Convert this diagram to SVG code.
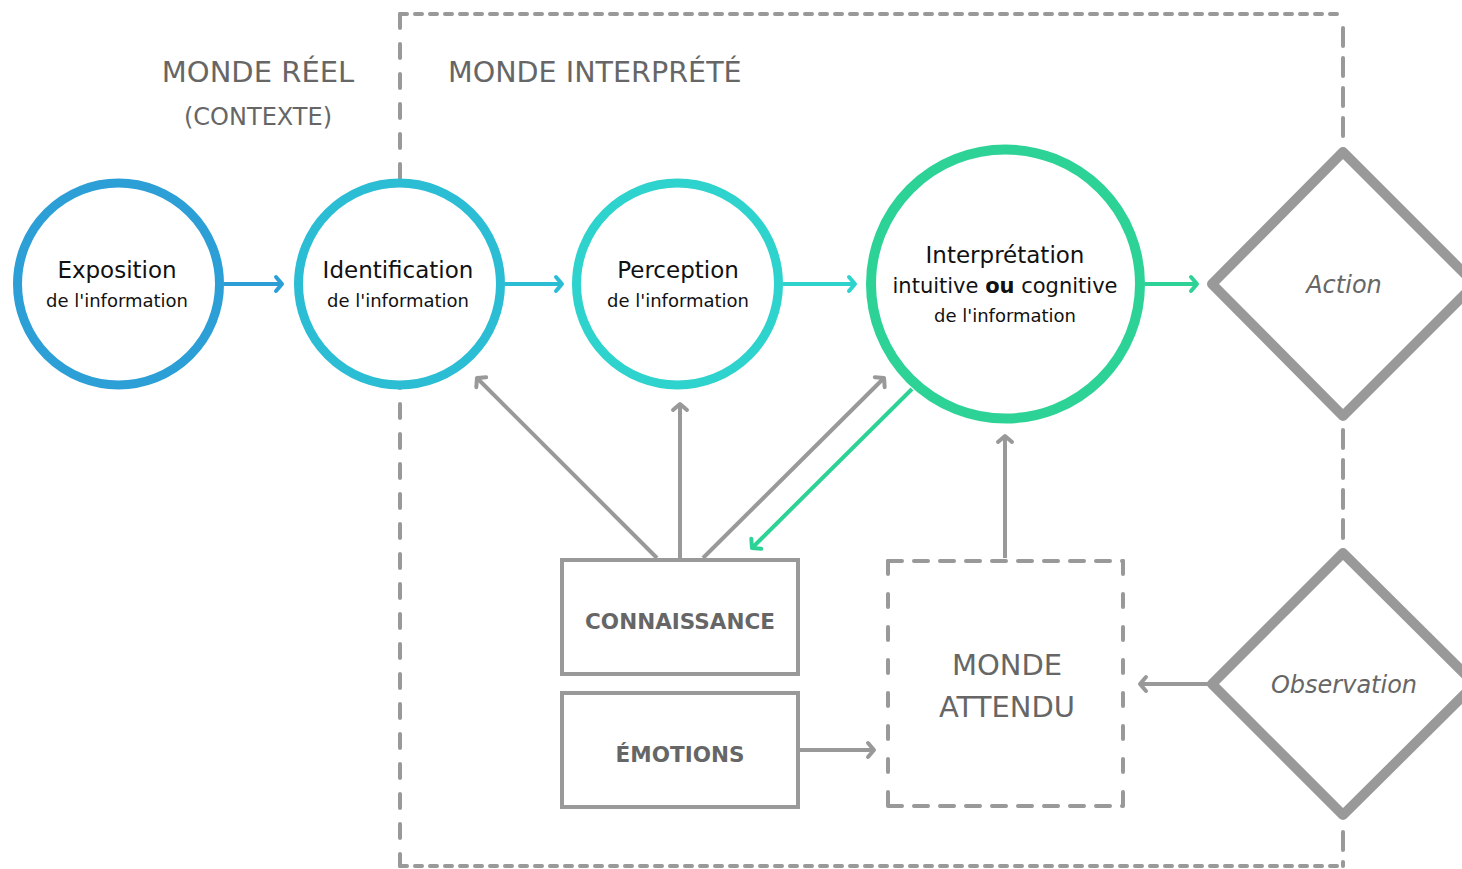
<svg xmlns="http://www.w3.org/2000/svg" width="1462" height="869" viewBox="0 0 1462 869">
<style>
.t{font-family:"DejaVu Sans",Verdana,sans-serif;text-anchor:middle}
.g{fill:#666}
.k{fill:#111}
.dash{fill:none;stroke:#999;stroke-width:4;stroke-linecap:round}
.ln{fill:none;stroke-width:4}
.box{fill:#fff;stroke:#999;stroke-width:4}
.dia{fill:#fff;stroke:#999;stroke-width:10;stroke-linejoin:round}
</style>
<defs>
<marker id="mb" markerUnits="userSpaceOnUse" markerWidth="20" markerHeight="20" viewBox="-10 -10 20 20" refX="0" refY="0" orient="auto" overflow="visible"><path d="M-6,-7 L0,0 L-6,7" fill="none" stroke="#2b9fd6" stroke-width="4" stroke-linecap="round" stroke-linejoin="round"/></marker>
<marker id="mc" markerUnits="userSpaceOnUse" markerWidth="20" markerHeight="20" viewBox="-10 -10 20 20" refX="0" refY="0" orient="auto" overflow="visible"><path d="M-6,-7 L0,0 L-6,7" fill="none" stroke="#2bbdd4" stroke-width="4" stroke-linecap="round" stroke-linejoin="round"/></marker>
<marker id="mt" markerUnits="userSpaceOnUse" markerWidth="20" markerHeight="20" viewBox="-10 -10 20 20" refX="0" refY="0" orient="auto" overflow="visible"><path d="M-6,-7 L0,0 L-6,7" fill="none" stroke="#2dd3cc" stroke-width="4" stroke-linecap="round" stroke-linejoin="round"/></marker>
<marker id="mg" markerUnits="userSpaceOnUse" markerWidth="20" markerHeight="20" viewBox="-10 -10 20 20" refX="0" refY="0" orient="auto" overflow="visible"><path d="M-6,-7 L0,0 L-6,7" fill="none" stroke="#2dd396" stroke-width="4" stroke-linecap="round" stroke-linejoin="round"/></marker>
<marker id="my" markerUnits="userSpaceOnUse" markerWidth="20" markerHeight="20" viewBox="-10 -10 20 20" refX="0" refY="0" orient="auto" overflow="visible"><path d="M-6,-7 L0,0 L-6,7" fill="none" stroke="#999" stroke-width="4" stroke-linecap="round" stroke-linejoin="round"/></marker>
</defs>
<rect width="1462" height="869" fill="#fff"/>

<g id="monde-interprete-frame">
<line class="dash" x1="400" y1="14" x2="1343" y2="14" stroke-dasharray="7 8"/>
<line class="dash" x1="400" y1="14" x2="400" y2="866" stroke-dasharray="14 16"/>
<line class="dash" x1="1343" y1="28" x2="1343" y2="140" stroke-dasharray="18 12"/>
<line class="dash" x1="1343" y1="430" x2="1343" y2="540" stroke-dasharray="18 12"/>
<line class="dash" x1="1343" y1="832" x2="1343" y2="866" stroke-dasharray="18 12"/>
<line class="dash" x1="400" y1="866" x2="1343" y2="866" stroke-dasharray="7 8"/>
</g>

<g id="labels">
<text class="t g" x="258" y="82" font-size="29">MONDE RÉEL</text>
<text class="t g" x="258" y="125" font-size="24">(CONTEXTE)</text>
<text class="t g" x="448" y="82" font-size="28.6" style="text-anchor:start">MONDE INTERPRÉTÉ</text>
</g>

<g id="connectors">
<line class="ln" x1="224" y1="284" x2="282" y2="284" stroke="#2b9fd6" marker-end="url(#mb)"/>
<line class="ln" x1="505" y1="284" x2="562" y2="284" stroke="#2bbdd4" marker-end="url(#mc)"/>
<line class="ln" x1="783" y1="284" x2="855" y2="284" stroke="#2dd3cc" marker-end="url(#mt)"/>
<line class="ln" x1="1145" y1="284" x2="1197" y2="284" stroke="#2dd396" marker-end="url(#mg)"/>
<line class="ln" x1="657" y1="558" x2="477" y2="378" stroke="#999" marker-end="url(#my)"/>
<line class="ln" x1="680" y1="558" x2="680" y2="404" stroke="#999" marker-end="url(#my)"/>
<line class="ln" x1="703" y1="558" x2="884" y2="378" stroke="#999" marker-end="url(#my)"/>
<line class="ln" x1="912" y1="389" x2="752" y2="548" stroke="#2dd396" marker-end="url(#mg)"/>
<line class="ln" x1="1005" y1="558" x2="1005" y2="436" stroke="#999" marker-end="url(#my)"/>
<line class="ln" x1="1212" y1="684" x2="1140" y2="684" stroke="#999" marker-end="url(#my)"/>
<line class="ln" x1="798" y1="750" x2="874" y2="750" stroke="#999" marker-end="url(#my)"/>
</g>

<g id="exposition">
<circle cx="118.5" cy="284" r="101" fill="#fff" stroke="#2b9fd6" stroke-width="9"/>
<text class="t k" x="117" y="278" font-size="23">Exposition</text>
<text class="t k" x="117" y="307" font-size="18">de l'information</text>
</g>
<g id="identification">
<circle cx="399.5" cy="284" r="101" fill="#fff" stroke="#2bbdd4" stroke-width="9"/>
<text class="t k" x="398" y="278" font-size="23">Identification</text>
<text class="t k" x="398" y="307" font-size="18">de l'information</text>
</g>
<g id="perception">
<circle cx="677.5" cy="284" r="101" fill="#fff" stroke="#2dd3cc" stroke-width="9"/>
<text class="t k" x="678" y="278" font-size="23">Perception</text>
<text class="t k" x="678" y="307" font-size="18">de l'information</text>
</g>
<g id="interpretation">
<circle cx="1005.5" cy="284" r="134.5" fill="#fff" stroke="#2dd396" stroke-width="10"/>
<text class="t k" x="1005" y="263" font-size="23">Interprétation</text>
<text class="t k" x="1005" y="293" font-size="21">intuitive <tspan font-weight="bold">ou</tspan> cognitive</text>
<text class="t k" x="1005" y="322" font-size="18">de l'information</text>
</g>
<g id="action">
<polygon class="dia" points="1343,152 1475,284 1343,416 1212,284"/>
<text class="t g" x="1344" y="293" font-size="24" font-style="italic">Action</text>
</g>
<g id="observation">
<polygon class="dia" points="1343,553 1475,684 1343,815 1212,684"/>
<text class="t g" x="1344" y="693" font-size="24" font-style="italic">Observation</text>
</g>
<g id="connaissance">
<rect class="box" x="562" y="560" width="236" height="114"/>
<text class="t g" x="680" y="629" font-size="21.5" font-weight="bold">CONNAISSANCE</text>
</g>
<g id="emotions">
<rect class="box" x="562" y="693" width="236" height="114"/>
<text class="t g" x="680" y="762" font-size="21.5" font-weight="bold">ÉMOTIONS</text>
</g>
<g id="monde-attendu">
<line class="dash" x1="888" y1="561" x2="1123" y2="561" stroke-dasharray="14 12"/>
<line class="dash" x1="888" y1="806" x2="1123" y2="806" stroke-dasharray="14 12"/>
<line class="dash" x1="888" y1="561" x2="888" y2="806" stroke-dasharray="13 20"/>
<line class="dash" x1="1123" y1="561" x2="1123" y2="806" stroke-dasharray="13 20"/>
<text class="t g" x="1007" y="675" font-size="29">MONDE</text>
<text class="t g" x="1007" y="717" font-size="29">ATTENDU</text>
</g>
</svg>
